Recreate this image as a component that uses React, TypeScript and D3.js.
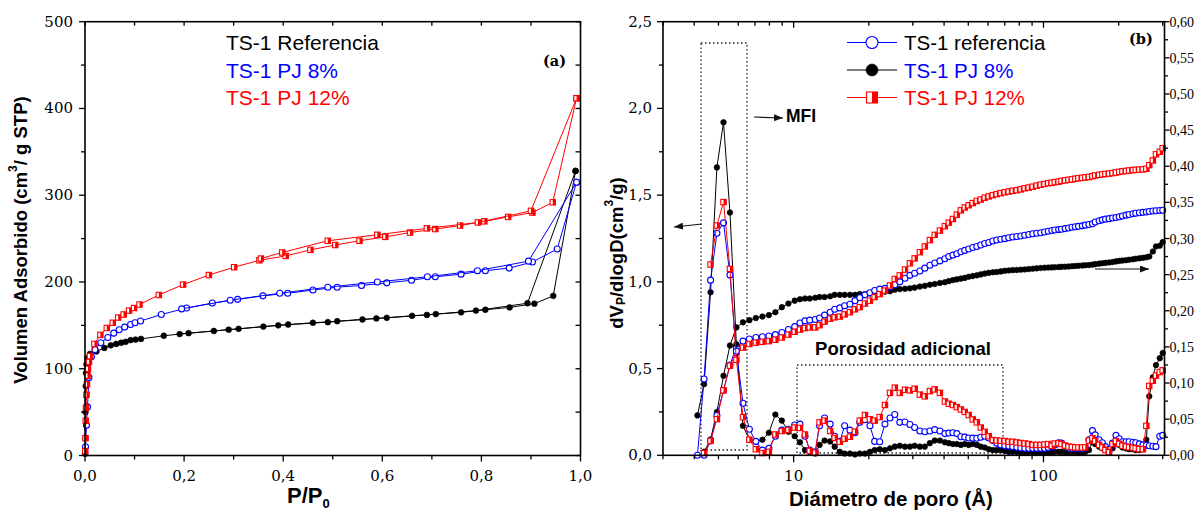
import React from "react";
import * as d3 from "d3";

// ---------------- Panel (a): N2 isotherms (P/P0 , cm3/g STP) ----------------
const refAdsorption: [number, number][] = [
  [0.0003, 2], [0.0006, 20], [0.001, 50], [0.0015, 80], [0.002, 95], [0.003, 105], [0.005, 112], [0.01, 117],
  [0.023, 120], [0.039, 124], [0.052, 127], [0.063, 128.6], [0.073, 130], [0.082, 131], [0.092, 133], [0.102, 133.6],
  [0.113, 134.4], [0.159, 138], [0.209, 141], [0.26, 143.6], [0.31, 146], [0.36, 148.6], [0.41, 151], [0.46, 153],
  [0.509, 154.8], [0.56, 156.8], [0.609, 158.7], [0.66, 161], [0.708, 163], [0.759, 165], [0.808, 168], [0.857, 170.7],
  [0.907, 175], [0.945, 184], [0.99, 328],
];
const refDesorption: [number, number][] = [
  [0.99, 328], [0.893, 175.5], [0.789, 167], [0.69, 162], [0.588, 158], [0.49, 153.7], [0.39, 150], [0.29, 145], [0.191, 140],
];
const pj8Adsorption: [number, number][] = [
  [0.001, 10], [0.003, 35], [0.005, 56], [0.008, 90], [0.013, 113.7], [0.02, 122], [0.032, 130], [0.046, 136],
  [0.058, 141], [0.069, 145], [0.08, 148], [0.092, 151], [0.101, 153], [0.112, 155], [0.154, 162.5], [0.205, 170],
  [0.257, 175.7], [0.308, 180], [0.359, 184], [0.409, 187], [0.46, 190.7], [0.509, 194], [0.558, 196], [0.609, 199],
  [0.659, 202], [0.707, 206], [0.759, 209], [0.808, 213], [0.856, 216], [0.903, 223], [0.953, 238], [0.992, 315],
];
const pj8Desorption: [number, number][] = [
  [0.992, 315], [0.895, 224], [0.792, 213], [0.691, 206], [0.59, 200], [0.49, 194], [0.393, 187], [0.293, 179], [0.195, 169],
];
const pj12Adsorption: [number, number][] = [
  [0.0005, 5], [0.001, 20], [0.0015, 40], [0.002, 55], [0.003, 70], [0.004, 82], [0.005, 92], [0.006, 100], [0.008, 108],
  [0.01, 114.5], [0.019, 128.6], [0.031, 139], [0.044, 147], [0.056, 153], [0.067, 159], [0.078, 162.5], [0.089, 167],
  [0.099, 170], [0.11, 174], [0.149, 185], [0.198, 197], [0.25, 208], [0.301, 217], [0.352, 225], [0.405, 230],
  [0.455, 237], [0.505, 242.6], [0.554, 247.5], [0.606, 252], [0.656, 257], [0.707, 261], [0.757, 265], [0.806, 269.9],
  [0.854, 275], [0.903, 280], [0.944, 291.8], [0.992, 411.8],
];
const pj12Desorption: [number, number][] = [
  [0.992, 411.8], [0.9, 282], [0.793, 268.6], [0.69, 261.8], [0.59, 254.4], [0.49, 247.5], [0.398, 234], [0.355, 227],
];
const isoLegend = ["TS-1 Referencia", "TS-1 PJ 8%", "TS-1 PJ 12%"];
const isoXTicks = [0, 0.2, 0.4, 0.6, 0.8, 1.0];
const isoYTicks = [0, 100, 200, 300, 400, 500];

// ---------------- Panel (b): pore size distributions ----------------
const poreDiameter = [
  4.12, 4.38, 4.65, 4.93, 5.24, 5.56, 5.90, 6.27, 6.65, 7.06,
  7.50, 7.96, 8.45, 8.97, 9.53, 10.1, 10.6, 11.1, 11.6, 12.2,
  12.7, 13.3, 14.0, 14.6, 15.3, 16.0, 16.8, 17.6, 18.4, 19.3,
  20.2, 21.1, 22.1, 23.2, 24.3, 25.4, 26.6, 27.9, 29.2, 30.5,
  32.0, 33.5, 35.1, 36.7, 38.5, 40.3, 41.8, 43.4, 45.0, 46.7,
  48.4, 50.2, 52.1, 54.1, 56.1, 58.2, 60.4, 62.7, 65.0, 67.5,
  70.0, 72.6, 75.3, 78.2, 81.1, 84.1, 87.3, 90.6, 94.0, 97.5,
  101, 104.5, 108, 111, 115, 118, 122, 126, 130, 134,
  138, 143, 147, 152, 157, 161, 167, 172, 177, 183,
  189, 195, 201, 207, 214, 220, 228, 234, 242, 250,
  258, 265, 274, 282, 292, 300,
];
// dV/dlogD (left axis)
const distReferencia: (number | null)[] = [
  0, 0.44, 1.01, 1.28, 1.34, 1.04, 0.60, 0.30, 0.15, 0.08,
  0.03, 0.04, 0.11, 0.145, 0.15, 0.175, 0.18, 0.11, 0.03, 0.02,
  0.17, 0.215, 0.18, 0.11, 0.08, 0.17, 0.145, 0.13, 0.19, 0.205,
  0.17, 0.08, 0.078, 0.18, 0.215, 0.235, 0.19, 0.192, 0.178, 0.16,
  0.14, 0.136, 0.14, 0.148, 0.14, 0.125, 0.128, 0.13, 0.125, 0.107,
  0.105, 0.10, 0.099, 0.098, 0.104, 0.11, 0.10, 0.085, 0.07, 0.06,
  0.055, 0.054, 0.05, 0.046, 0.042, 0.04, 0.04, 0.04, 0.04, 0.04,
  0.04, 0.045, 0.05, 0.06, 0.072, 0.07, 0.055, 0.042, 0.04, 0.04,
  0.04, 0.038, 0.045, 0.09, 0.142, 0.118, 0.09, 0.072, 0.05, 0.035,
  0.07, 0.115, 0.095, 0.078, 0.078, 0.078, 0.075, 0.072, 0.066, 0.06,
  0.058, 0.055, 0.052, 0.05, 0.11, 0.115,
];
const distPJ8: (number | null)[] = [
  0.23, 0.41, 0.94, 1.66, 1.92, 1.40, 0.64, 0.17, 0.09, 0.08,
  0.09, 0.13, 0.235, 0.20, 0.136, 0.11, 0.075, 0.03, 0.02, 0.01,
  0.06, 0.085, 0.08, 0.05, 0.02, 0.01, 0.01, 0.005, 0.01, 0.01,
  0.02, 0.03, 0.035, 0.03, 0.04, 0.05, 0.055, 0.05, 0.05, 0.055,
  0.05, 0.05, 0.07, 0.085, 0.085, 0.075, 0.07, 0.065, 0.065, 0.06,
  0.065, 0.06, 0.065, 0.06, 0.05, 0.045, 0.035, 0.03, 0.03, 0.03,
  0.025, 0.02, 0.02, 0.02, 0.018, 0.018, 0.017, 0.017, 0.016, 0.016,
  0.015, 0.015, 0.015, 0.02, 0.02, 0.02, 0.018, 0.018, 0.02, 0.02,
  0.018, 0.018, 0.02, 0.03, 0.075, 0.065, 0.05, 0.04, 0.03, 0.015,
  0.04, 0.065, 0.06, 0.045, 0.04, 0.035, 0.035, 0.03, 0.03, 0.035,
  0.09, 0.34, 0.45, 0.52, 0.56, 0.59,
];
const distPJ12: (number | null)[] = [
  null, null, 1.10, 1.325, 1.46, 1.075, 0.55, 0.22, 0.09, 0.035,
  0.013, 0.02, 0.12, 0.14, 0.146, 0.16, 0.158, 0.12, 0.025, 0.015,
  0.19, 0.2, 0.14, 0.10, 0.078, 0.095, 0.107, 0.136, 0.2, 0.232,
  0.208, 0.2, 0.22, 0.29, 0.36, 0.39, 0.36, 0.378, 0.374, 0.384,
  0.35, 0.34, 0.37, 0.38, 0.36, 0.31, 0.297, 0.29, 0.278, 0.264,
  0.25, 0.232, 0.207, 0.19, 0.16, 0.135, 0.11, 0.088, 0.085, 0.084,
  0.082, 0.078, 0.078, 0.074, 0.071, 0.068, 0.065, 0.06, 0.06, 0.06,
  0.062, 0.065, 0.055, 0.068, 0.07, 0.065, 0.056, 0.05, 0.048, 0.046,
  0.045, 0.045, 0.046, 0.085, 0.098, 0.082, 0.06, 0.045, 0.03, 0.018,
  0.065, 0.082, 0.066, 0.055, 0.05, 0.046, 0.044, 0.04, 0.036, 0.035,
  0.17, 0.40, 0.43, 0.46, 0.48, 0.49,
];
// cumulative pore volume (right axis)
const cumReferencia: (number | null)[] = [
  null, 0.0, 0.02, 0.055, 0.09, 0.125, 0.15, 0.158, 0.161, 0.163,
  0.164, 0.165, 0.167, 0.17, 0.174, 0.178, 0.183, 0.186, 0.187, 0.188,
  0.19, 0.194, 0.198, 0.202, 0.204, 0.207, 0.209, 0.214, 0.218, 0.222,
  0.225, 0.228, 0.23, 0.231, 0.233, 0.236, 0.24, 0.245, 0.249, 0.252,
  0.255, 0.259, 0.263, 0.266, 0.269, 0.272, 0.275, 0.277, 0.279, 0.2817,
  0.2835, 0.2855, 0.2875, 0.289, 0.291, 0.293, 0.2945, 0.2965, 0.298, 0.299,
  0.2998, 0.301, 0.302, 0.3027, 0.3035, 0.3045, 0.3055, 0.3065, 0.3073, 0.308,
  0.309, 0.310, 0.311, 0.3117, 0.3123, 0.3128, 0.3137, 0.3146, 0.3155, 0.3162,
  0.3168, 0.3175, 0.3185, 0.3193, 0.3205, 0.3228, 0.3245, 0.3258, 0.3268, 0.3275,
  0.3283, 0.329, 0.330, 0.3312, 0.3323, 0.3333, 0.3342, 0.335, 0.3356, 0.3362,
  0.3366, 0.3373, 0.338, 0.3385, 0.3388, 0.339,
];
const cumPJ8: (number | null)[] = [
  null, 0.005, 0.022, 0.06, 0.11, 0.152, 0.177, 0.184, 0.187, 0.19,
  0.192, 0.194, 0.198, 0.205, 0.21, 0.214, 0.216, 0.217, 0.217, 0.218,
  0.219, 0.219, 0.22, 0.222, 0.222, 0.222, 0.222, 0.222, 0.223, 0.223,
  0.224, 0.225, 0.226, 0.2265, 0.227, 0.229, 0.23, 0.2305, 0.231, 0.232,
  0.2335, 0.2345, 0.236, 0.237, 0.2385, 0.2395, 0.241, 0.2425, 0.2435, 0.2445,
  0.2455, 0.247, 0.248, 0.249, 0.2503, 0.2515, 0.2525, 0.2532, 0.2537, 0.2545,
  0.2553, 0.2558, 0.2562, 0.2565, 0.2568, 0.2572, 0.2577, 0.2582, 0.2587, 0.2592,
  0.2596, 0.2598, 0.26, 0.2602, 0.2605, 0.2608, 0.261, 0.2613, 0.2617, 0.262,
  0.2623, 0.2627, 0.263, 0.2633, 0.2638, 0.2645, 0.2652, 0.2658, 0.2663, 0.2668,
  0.2675, 0.2683, 0.269, 0.2695, 0.27, 0.2706, 0.2713, 0.272, 0.2727, 0.2733,
  0.274, 0.275, 0.282, 0.289, 0.29, 0.295,
];
const cumPJ12: (number | null)[] = [
  null, 0.003, 0.02, 0.05, 0.09, 0.124, 0.142, 0.149, 0.154, 0.156,
  0.157, 0.158, 0.16, 0.163, 0.167, 0.171, 0.174, 0.176, 0.177, 0.177,
  0.18, 0.185, 0.189, 0.191, 0.192, 0.195, 0.198, 0.202, 0.205, 0.21,
  0.214, 0.219, 0.223, 0.228, 0.235, 0.244, 0.249, 0.257, 0.2657, 0.2725,
  0.281, 0.289, 0.2978, 0.305, 0.311, 0.317, 0.322, 0.327, 0.333, 0.339,
  0.343, 0.346, 0.349, 0.352, 0.354, 0.3565, 0.3583, 0.36, 0.3614, 0.3628,
  0.364, 0.365, 0.366, 0.3668, 0.368, 0.3695, 0.3705, 0.3717, 0.3732, 0.3745,
  0.3755, 0.3765, 0.3771, 0.378, 0.3787, 0.3797, 0.3805, 0.3812, 0.3818, 0.3826,
  0.3834, 0.384, 0.3846, 0.3852, 0.3862, 0.3872, 0.3881, 0.3887, 0.3893, 0.3899,
  0.3905, 0.3914, 0.3922, 0.393, 0.3935, 0.3941, 0.3947, 0.395, 0.3953, 0.3957,
  0.3965, 0.4015, 0.408, 0.4165, 0.42, 0.425,
];
const psdLegend = ["TS-1 referencia", "TS-1 PJ 8%", "TS-1 PJ 12%"];
const psdLeftTicks = [0, 0.5, 1.0, 1.5, 2.0, 2.5];
const psdRightTicks = [0, 0.05, 0.1, 0.15, 0.2, 0.25, 0.3, 0.35, 0.4, 0.45, 0.5, 0.55, 0.6];
const psdXLabels = [10, 100];

const RED = "#ff0000";
const BLUE = "#0000ff";
const BLACK = "#000000";
const SANS = "'Liberation Sans', Arial, sans-serif";
const SERIF = "'DejaVu Serif', serif";
const SERIF_NARROW = "'Liberation Serif', serif";

const comma = (fmt: string) => (v: number) => d3.format(fmt)(v).replace(".", ",");

type Kind = "filled" | "open" | "half";

function Marker({ x, y, kind, color, size }: { x: number; y: number; kind: Kind; color: string; size: number }) {
  if (kind === "filled") return <circle cx={x} cy={y} r={size} fill={color} stroke={color} strokeWidth={0.6} />;
  if (kind === "open") return <circle cx={x} cy={y} r={size} fill="white" stroke={color} strokeWidth={1.1} />;
  const s = size * 2;
  return (
    <g>
      <rect x={x - s / 2} y={y - s / 2} width={s} height={s} fill="white" stroke={color} strokeWidth={1.1} />
      <rect x={x} y={y - s / 2} width={s / 2} height={s} fill={color} />
    </g>
  );
}

function Series({ pts, kind, color, size, line }: {
  pts: [number, number][]; kind: Kind; color: string; size: number; line: string;
}) {
  return (
    <g>
      <path d={line} fill="none" stroke={color} strokeWidth={1} />
      {pts.map((p, i) => (
        <Marker key={i} x={p[0]} y={p[1]} kind={kind} color={color} size={size} />
      ))}
    </g>
  );
}

export default function App() {
  // scales
  const xL = d3.scaleLinear().domain([0, 1]).range([85, 580.5]);
  const yL = d3.scaleLinear().domain([0, 500]).range([455.5, 21.7]);
  const xR = d3.scaleLog().domain([3, 305]).range([663, 1164.5]);
  const yRL = d3.scaleLinear().domain([0, 2.5]).range([455.3, 21.7]);
  const yRR = d3.scaleLinear().domain([0, 0.6]).range([455.3, 21.7]);

  const lineGen = d3.line<[number, number]>().x((d) => d[0]).y((d) => d[1]);

  const isoPts = (arr: [number, number][]) => arr.map((d) => [xL(d[0]), yL(d[1])] as [number, number]);
  const psdPts = (vals: (number | null)[], y: d3.ScaleLinear<number, number>) =>
    poreDiameter
      .map((d, i) => (vals[i] == null ? null : ([xR(d), y(vals[i] as number)] as [number, number])))
      .filter((p): p is [number, number] => p !== null);

  const isoSeries = [
    { ads: refAdsorption, des: refDesorption, kind: "filled" as Kind, color: BLACK, size: 2.9 },
    { ads: pj8Adsorption, des: pj8Desorption, kind: "open" as Kind, color: BLUE, size: 3.0 },
    { ads: pj12Adsorption, des: pj12Desorption, kind: "half" as Kind, color: RED, size: 2.7 },
  ];

  const psdSeries = [
    { vals: cumPJ8, y: yRR, kind: "filled" as Kind, color: BLACK, size: 2.8 },
    { vals: cumReferencia, y: yRR, kind: "open" as Kind, color: BLUE, size: 3.0 },
    { vals: cumPJ12, y: yRR, kind: "half" as Kind, color: RED, size: 2.7 },
    { vals: distPJ8, y: yRL, kind: "filled" as Kind, color: BLACK, size: 2.8 },
    { vals: distReferencia, y: yRL, kind: "open" as Kind, color: BLUE, size: 3.0 },
    { vals: distPJ12, y: yRL, kind: "half" as Kind, color: RED, size: 2.7 },
  ];

  const [lx0, lx1] = xL.range();
  const [ly0, ly1] = yL.range();
  const [rx0, rx1] = xR.range();
  const [ry0, ry1] = yRL.range();

  const fmt1 = comma(".1f");
  const fmt2 = comma(".2f");

  const isoMinorX = d3.range(0, 1.0001, 0.1);
  const isoMinorY = d3.range(0, 500.1, 50);
  const logTicks = xR.ticks();
  const leftMinor = d3.range(0, 2.51, 0.25);
  const rightMinor = d3.range(0, 0.6001, 0.025);

  const tickStroke = { stroke: BLACK, strokeWidth: 1.3 };

  return (
    <svg width={1194} height={512} style={{ position: "absolute", left: 0, top: 0, background: "white" }}
      xmlns="http://www.w3.org/2000/svg">
      <defs>
        <marker id="arrowHead" markerUnits="userSpaceOnUse" markerWidth={9} markerHeight={7} refX={9} refY={3.5} orient="auto">
          <path d="M0,0 L9,3.5 L0,7 Z" fill="#111" />
        </marker>
      </defs>
      <rect x={0} y={0} width={1194} height={512} fill="white" />

      {/* ================= Panel (a) ================= */}
      {isoSeries.map((s, i) => {
        const a = isoPts(s.ads);
        const d = isoPts(s.des);
        return (
          <g key={i}>
            <Series pts={a} kind={s.kind} color={s.color} size={s.size} line={lineGen(a) || ""} />
            <Series pts={d} kind={s.kind} color={s.color} size={s.size} line={lineGen(d) || ""} />
          </g>
        );
      })}

      {/* axes frame */}
      <rect x={lx0} y={ly1} width={lx1 - lx0} height={ly0 - ly1} fill="none" stroke={BLACK} strokeWidth={1.6} />
      {isoMinorX.map((v, i) => {
        const major = isoXTicks.some((t) => Math.abs(t - v) < 1e-6);
        return (
          <g key={"ax" + i}>
            <line x1={xL(v)} x2={xL(v)} y1={ly0} y2={ly0 + (major ? 6 : 4)} {...tickStroke} />
            <line x1={xL(v)} x2={xL(v)} y1={ly1} y2={ly1 + 4} {...tickStroke} />
          </g>
        );
      })}
      {isoMinorY.map((v, i) => {
        const major = isoYTicks.some((t) => Math.abs(t - v) < 1e-6);
        return (
          <g key={"ay" + i}>
            <line x1={lx0} x2={lx0 - (major ? 6 : 4)} y1={yL(v)} y2={yL(v)} {...tickStroke} />
            <line x1={lx1} x2={lx1 - 5} y1={yL(v)} y2={yL(v)} {...tickStroke} />
          </g>
        );
      })}
      {isoXTicks.map((v, i) => (
        <text key={"axl" + i} x={xL(v)} y={481} textAnchor="middle" fontFamily={SERIF} fontSize={15} fill={BLACK}>
          {fmt1(v)}
        </text>
      ))}
      {isoYTicks.map((v, i) => (
        <text key={"ayl" + i} x={73} y={yL(v) + 5} textAnchor="end" fontFamily={SERIF} fontSize={15} fill={BLACK}>
          {v}
        </text>
      ))}
      <text x={287} y={503} fontFamily={SANS} fontWeight="bold" fontSize={22} fill={BLACK}>
        P/P<tspan fontSize={13} dy={5}>0</tspan>
      </text>
      <text transform="translate(20,240) rotate(-90)" textAnchor="middle" dominantBaseline="central"
        fontFamily={SANS} fontWeight="bold" fontSize={18.5} fill={BLACK}>
        Volumen Adsorbido (cm<tspan fontSize={12} dy={-7}>3</tspan><tspan dy={7}>/ g STP)</tspan>
      </text>
      {isoLegend.map((t, i) => (
        <text key={"il" + i} x={226} y={50 + i * 27.7} fontFamily={SANS} fontSize={21}
          fill={[BLACK, BLUE, RED][i]}>{t}</text>
      ))}
      <text x={543} y={66} fontFamily={SERIF} fontWeight="bold" fontSize={14.5} fill={BLACK}>(a)</text>

      {/* ================= Panel (b) ================= */}
      {/* annotation boxes */}
      <rect x={701} y={43} width={46} height={407} fill="none" stroke="#222" strokeWidth={1.3} strokeDasharray="1.5 2.5" />
      <line x1={701} x2={701} y1={450} y2={455} stroke="#222" strokeWidth={1.3} strokeDasharray="1.5 2.5" />
      <rect x={797} y={365} width={206} height={88} fill="none" stroke="#222" strokeWidth={1.3} strokeDasharray="1.5 2.5" />

      {psdSeries.map((s, i) => {
        const p = psdPts(s.vals, s.y);
        return <Series key={"ps" + i} pts={p} kind={s.kind} color={s.color} size={s.size} line={lineGen(p) || ""} />;
      })}

      <rect x={rx0} y={ry1} width={rx1 - rx0} height={ry0 - ry1} fill="none" stroke={BLACK} strokeWidth={1.6} />
      {logTicks.map((v, i) => {
        const major = psdXLabels.includes(v);
        return (
          <g key={"bx" + i}>
            <line x1={xR(v)} x2={xR(v)} y1={ry0} y2={ry0 + (major ? 7 : 4)} {...tickStroke} />
            <line x1={xR(v)} x2={xR(v)} y1={ry1} y2={ry1 + (major ? 6 : 4)} {...tickStroke} />
          </g>
        );
      })}
      {psdXLabels.map((v, i) => (
        <text key={"bxl" + i} x={xR(v)} y={481} textAnchor="middle" fontFamily={SERIF} fontSize={15} fill={BLACK}>{v}</text>
      ))}
      {leftMinor.map((v, i) => {
        const major = psdLeftTicks.some((t) => Math.abs(t - v) < 1e-6);
        return <line key={"bly" + i} x1={rx0} x2={rx0 - (major ? 6 : 4)} y1={yRL(v)} y2={yRL(v)} {...tickStroke} />;
      })}
      {psdLeftTicks.map((v, i) => (
        <text key={"bll" + i} x={652} y={yRL(v) + 5} textAnchor="end" fontFamily={SERIF} fontSize={15} fill={BLACK}>{fmt1(v)}</text>
      ))}
      {rightMinor.map((v, i) => {
        const major = psdRightTicks.some((t) => Math.abs(t - v) < 1e-6);
        return <line key={"bry" + i} x1={rx1} x2={rx1 + (major ? 5 : 3.5)} y1={yRR(v)} y2={yRR(v)} {...tickStroke} />;
      })}
      {psdRightTicks.map((v, i) => (
        <text key={"brl" + i} x={1169.5} y={yRR(v) + 5} fontFamily={SERIF_NARROW} fontSize={14} fill={BLACK}>{fmt2(v)}</text>
      ))}

      <text x={789} y={506} fontFamily={SANS} fontWeight="bold" fontSize={20.5} fill={BLACK}>Diámetro de poro (Å)</text>
      <text transform="translate(616,253) rotate(-90)" textAnchor="middle" dominantBaseline="central"
        fontFamily={SANS} fontWeight="bold" fontSize={18.5} fill={BLACK}>
        dV<tspan fontSize={12} dy={5}>P</tspan><tspan dy={-5}>/dlogD(cm</tspan><tspan fontSize={12} dy={-7}>3</tspan><tspan dy={7}>/g)</tspan>
      </text>

      {/* legend */}
      {psdLegend.map((t, i) => {
        const cy = 42.5 + i * 27.5;
        const mk = [
          { kind: "open" as Kind, color: BLUE },
          { kind: "filled" as Kind, color: BLACK },
          { kind: "half" as Kind, color: RED },
        ][i];
        return (
          <g key={"pl" + i}>
            <line x1={847} x2={897} y1={cy} y2={cy} stroke={mk.color} strokeWidth={1.1} />
            <Marker x={872} y={cy} kind={mk.kind} color={mk.color} size={mk.kind === "half" ? 5.5 : 6} />
            <text x={904} y={cy + 7.5} fontFamily={SANS} fontSize={20.5} fill={[BLACK, BLUE, RED][i]}>{t}</text>
          </g>
        );
      })}
      <text x={1129} y={44} fontFamily={SERIF} fontWeight="bold" fontSize={14.5} fill={BLACK}>(b)</text>

      {/* annotations */}
      <text x={786} y={122} fontFamily={SANS} fontWeight="bold" fontSize={17.5} fill={BLACK}>MFI</text>
      <line x1={754} y1={117} x2={783} y2={118} stroke="#111" strokeWidth={1.2} markerEnd="url(#arrowHead)" />
      <line x1={702} y1={224} x2={674} y2={227} stroke="#111" strokeWidth={1.2} markerEnd="url(#arrowHead)" />
      <line x1={1095} y1={269} x2={1149} y2={269} stroke="#111" strokeWidth={1.2} markerEnd="url(#arrowHead)" />
      <text x={903} y={355} textAnchor="middle" fontFamily={SANS} fontWeight="bold" fontSize={18.5} fill={BLACK}>
        Porosidad adicional
      </text>
    </svg>
  );
}
